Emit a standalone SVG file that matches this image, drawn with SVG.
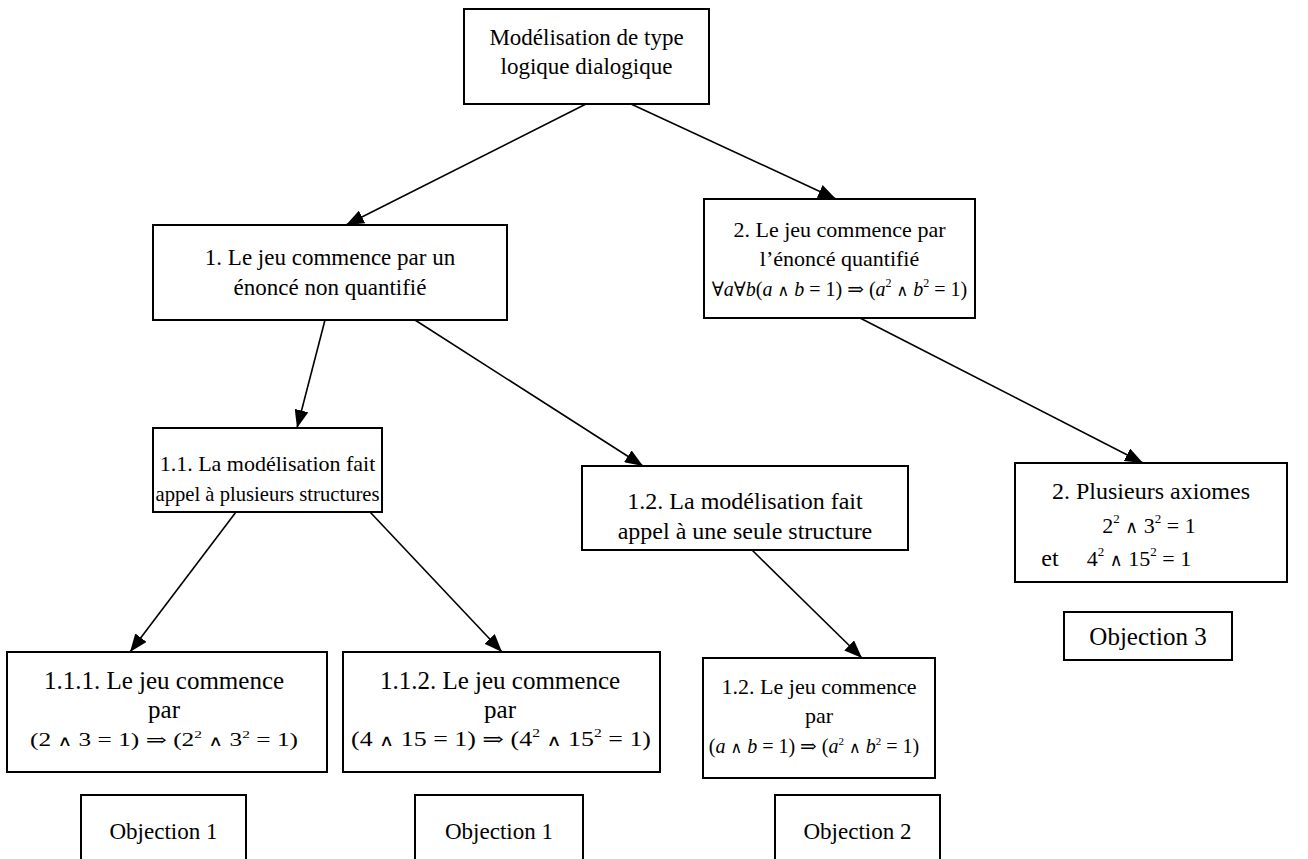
<svg xmlns="http://www.w3.org/2000/svg" width="1308" height="859" viewBox="0 0 1308 859">
<style>
.box{fill:#fff;stroke:#000;stroke-width:2}
.t{font-family:"Liberation Serif","Times New Roman",serif;font-size:22px;fill:#000;text-anchor:middle}
.m{font-family:"Liberation Serif","DejaVu Serif",serif;font-size:20px;fill:#000;text-anchor:middle}
.i{font-style:italic}
.w{font-size:0.8em}
.e{stroke:#000;stroke-width:1.6;fill:none;marker-end:url(#ah)}
</style>
<defs>
<marker id="ah" viewBox="0 0 10 10" refX="10" refY="5" markerWidth="18" markerHeight="14" markerUnits="userSpaceOnUse" orient="auto" preserveAspectRatio="none">
<path d="M0,0 L10,5 L0,10 z" fill="#000"/>
</marker>
</defs>
<rect width="1308" height="859" fill="#fff"/>
<g id="connectors">
<line class="e" x1="586" y1="104" x2="346" y2="225"/>
<line class="e" x1="631" y1="104" x2="836" y2="199"/>
<line class="e" x1="325" y1="320" x2="297" y2="428"/>
<line class="e" x1="415" y1="320" x2="643" y2="466"/>
<line class="e" x1="236" y1="512" x2="130" y2="652"/>
<line class="e" x1="370" y1="512" x2="502" y2="652"/>
<line class="e" x1="752" y1="550" x2="862" y2="658"/>
<line class="e" x1="860" y1="318" x2="1143" y2="463"/>
</g>
<g id="n-root">
<rect class="box" x="464" y="9" width="245" height="95"/>
<text class="t" x="586.5" y="45" style="font-size:23px">Modélisation de type</text>
<text class="t" x="586.5" y="74" style="font-size:23px">logique dialogique</text>
</g>
<g id="n-1">
<rect class="box" x="153" y="225" width="354" height="95"/>
<text class="t" x="330" y="265" style="font-size:23px">1. Le jeu commence par un</text>
<text class="t" x="330" y="295" style="font-size:23px">énoncé non quantifié</text>
</g>
<g id="n-2">
<rect class="box" x="704" y="199" width="271" height="119"/>
<text class="t" x="839.5" y="237">2. Le jeu commence par</text>
<text class="t" x="839.5" y="266">l’énoncé quantifié</text>
<text class="m" x="839.5" y="296">∀<tspan class="i">a</tspan>∀<tspan class="i">b</tspan>(<tspan class="i">a</tspan> <tspan class="w">∧</tspan> <tspan class="i">b</tspan> = 1) ⇒ (<tspan class="i">a</tspan><tspan font-size="12" dy="-9">2</tspan><tspan dy="9"> </tspan><tspan class="w">∧</tspan> <tspan class="i">b</tspan><tspan font-size="12" dy="-9">2</tspan><tspan dy="9"> = 1)</tspan></text>
</g>
<g id="n-1-1">
<rect class="box" x="153" y="428" width="229" height="84"/>
<text class="t" x="267.5" y="471">1.1. La modélisation fait</text>
<text class="t" x="267.5" y="501" textLength="224" lengthAdjust="spacingAndGlyphs">appel à plusieurs structures</text>
</g>
<g id="n-1-2">
<rect class="box" x="582" y="466" width="326" height="84"/>
<text class="t" x="745" y="509" style="font-size:24px">1.2. La modélisation fait</text>
<text class="t" x="745" y="539" style="font-size:24px">appel à une seule structure</text>
</g>
<g id="n-2-1">
<rect class="box" x="1015" y="463" width="272" height="119"/>
<text class="t" x="1151" y="499" style="font-size:24px">2. Plusieurs axiomes</text>
<text class="m" x="1149" y="533" style="font-size:22px">2<tspan font-size="13" dy="-10">2</tspan><tspan dy="10"> </tspan><tspan class="w">∧</tspan> 3<tspan font-size="13" dy="-10">2</tspan><tspan dy="10"> = 1</tspan></text>
<text class="t" x="1050" y="566" style="font-size:24px">et</text>
<text class="m" x="1139" y="566" style="font-size:22px">4<tspan font-size="13" dy="-10">2</tspan><tspan dy="10"> </tspan><tspan class="w">∧</tspan> 15<tspan font-size="13" dy="-10">2</tspan><tspan dy="10"> = 1</tspan></text>
</g>
<g id="n-obj3">
<rect class="box" x="1064" y="612" width="168" height="48"/>
<text class="t" x="1148" y="645" style="font-size:25px">Objection 3</text>
</g>
<g id="n-1-1-1">
<rect class="box" x="7" y="652" width="320" height="120"/>
<text class="t" x="164" y="689" style="font-size:25px">1.1.1. Le jeu commence</text>
<text class="t" x="164" y="718" style="font-size:25px">par</text>
<text class="m" x="164" y="746" style="font-size:18px" textLength="268" lengthAdjust="spacingAndGlyphs">(2 <tspan class="w">∧</tspan> 3 = 1) ⇒ (2<tspan font-size="11" dy="-8">2</tspan><tspan dy="8"> </tspan><tspan class="w">∧</tspan> 3<tspan font-size="11" dy="-8">2</tspan><tspan dy="8"> = 1)</tspan></text>
</g>
<g id="n-1-1-2">
<rect class="box" x="343" y="652" width="317" height="120"/>
<text class="t" x="500" y="689" style="font-size:25px">1.1.2. Le jeu commence</text>
<text class="t" x="500" y="718" style="font-size:25px">par</text>
<text class="m" x="501" y="746" style="font-size:20px" textLength="300" lengthAdjust="spacingAndGlyphs">(4 <tspan class="w">∧</tspan> 15 = 1) ⇒ (4<tspan font-size="12" dy="-9">2</tspan><tspan dy="9"> </tspan><tspan class="w">∧</tspan> 15<tspan font-size="12" dy="-9">2</tspan><tspan dy="9"> = 1)</tspan></text>
</g>
<g id="n-1-2-1">
<rect class="box" x="703" y="658" width="232" height="120"/>
<text class="t" x="819" y="694">1.2. Le jeu commence</text>
<text class="t" x="819" y="723">par</text>
<text class="m" x="814" y="753" font-size="18">(<tspan class="i">a</tspan> <tspan class="w">∧</tspan> <tspan class="i">b</tspan> = 1) ⇒ (<tspan class="i">a</tspan><tspan font-size="11" dy="-8">2</tspan><tspan dy="8"> </tspan><tspan class="w">∧</tspan> <tspan class="i">b</tspan><tspan font-size="11" dy="-8">2</tspan><tspan dy="8"> = 1)</tspan></text>
</g>
<g id="n-obj1a">
<rect class="box" x="81" y="795" width="165" height="70"/>
<text class="t" x="163.5" y="839" style="font-size:24px" textLength="108" lengthAdjust="spacingAndGlyphs">Objection 1</text>
</g>
<g id="n-obj1b">
<rect class="box" x="415" y="795" width="168" height="70"/>
<text class="t" x="499" y="839" style="font-size:24px" textLength="108" lengthAdjust="spacingAndGlyphs">Objection 1</text>
</g>
<g id="n-obj2">
<rect class="box" x="775" y="795" width="165" height="70"/>
<text class="t" x="857.5" y="839" style="font-size:24px" textLength="108" lengthAdjust="spacingAndGlyphs">Objection 2</text>
</g>
</svg>
